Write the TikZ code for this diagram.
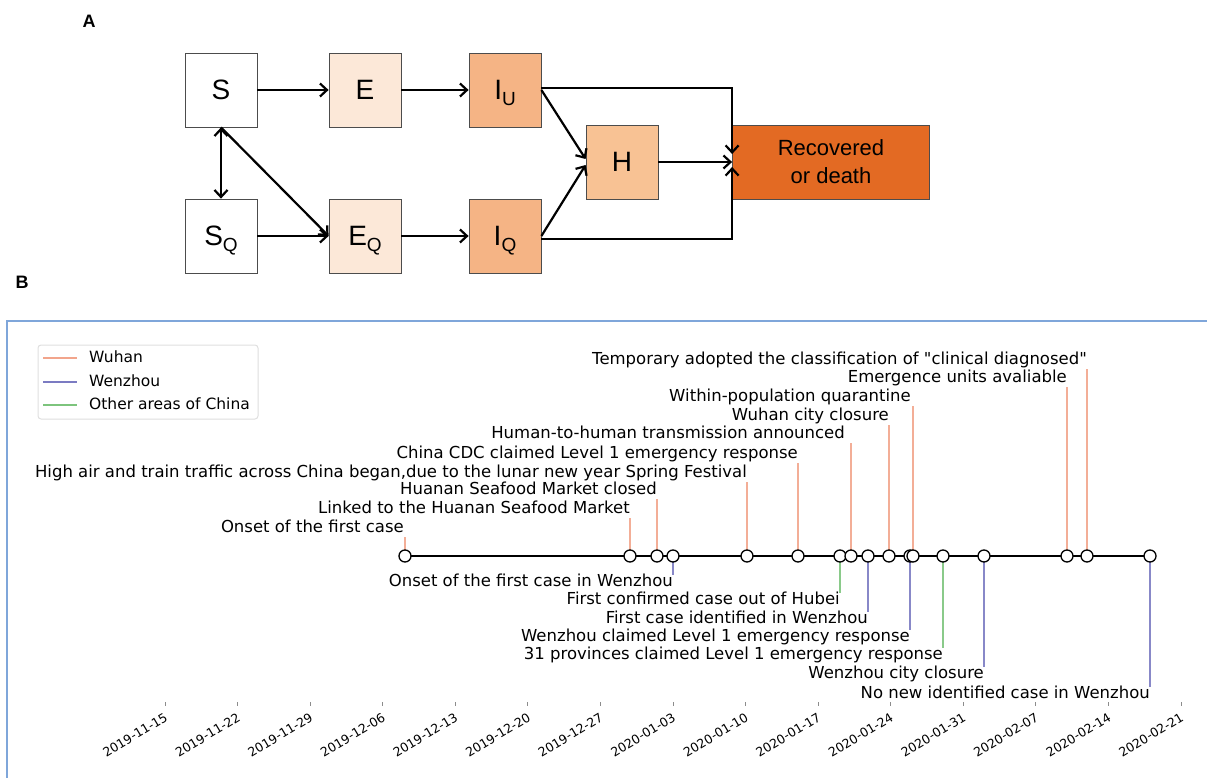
\documentclass[tikz,border=0pt]{standalone}
\usepackage{fontspec}
\setmainfont{DejaVu Sans}
\newfontfamily\dvplain{DejaVu Sans}
\newfontfamily\arialfont{Liberation Sans}
\usetikzlibrary{arrows.meta}
\definecolor{wuhancol}{HTML}{F2A58C}
\definecolor{wenzhoucol}{HTML}{7B7BC2}
\definecolor{othercol}{HTML}{7DC47D}
\definecolor{peach}{HTML}{FCE8D8}
\definecolor{apricot}{HTML}{F5B485}
\definecolor{lightapricot}{HTML}{F8C294}
\definecolor{burnt}{HTML}{E36A23}
\definecolor{frameblue}{HTML}{7FA6DA}
\newcommand\sublow[1]{\smash{\raisebox{-6pt}{\fontsize{19}{20}\selectfont #1}}}
\newcommand\dq{{\dvplain\char34}}

\tikzset{
  compbox/.style={draw=gray!60!black, line width=0.8pt, minimum width=72pt, minimum height=74pt, inner sep=0pt, font=\arialfont\fontsize{28}{30}\selectfont},
  flow/.style={line width=2.2pt, ->, >={Straight Barb[length=7pt,width=13pt]}},
  evline/.style={line width=2pt, opacity=0.9},
  evlabel/.style={inner sep=0pt, text height=11.5pt, text depth=3.5pt, font=\fontsize{16.5}{19}\selectfont},
  evdot/.style={circle, draw, line width=1.3pt, fill=white, minimum size=12pt, inner sep=0pt},
  panellabel/.style={font=\arialfont\bfseries\fontsize{18}{20}\selectfont}
}

\begin{document}
\begin{tikzpicture}[x=1pt,y=-1pt]
  \useasboundingbox (0,0) rectangle (1207,778);

  \node[panellabel] (labA) at (89,21) {A};
  \node[compbox, fill=white] (S) at (221,90) {S};
  \node[compbox, fill=peach] (E) at (365,90) {E};
  \node[compbox, fill=apricot] (IU) at (505,90) {I\sublow{U}};
  \node[compbox, fill=white] (SQ) at (221,236) {S\sublow{Q}};
  \node[compbox, fill=peach] (EQ) at (365,236) {E\sublow{Q}};
  \node[compbox, fill=apricot] (IQ) at (505,236) {I\sublow{Q}};
  \node[compbox, fill=lightapricot] (H) at (622,162) {H};
  \node[compbox, fill=burnt, minimum width=197pt, align=center, font=\arialfont\fontsize{22}{28}\selectfont] (Rec) at (831,162) {Recovered\\or death};

  \draw[flow] (S) -- (E);
  \draw[flow] (E) -- (IU);
  \draw[flow] (SQ) -- (EQ);
  \draw[flow] (EQ) -- (IQ);
  \draw[flow, <->] (S) -- (SQ);
  \draw[flow] (S.south) -- (EQ.west);
  \draw[flow] (IU.east) -- ([yshift=3pt]H.west);
  \draw[flow] (IQ.east) -- ([yshift=-3pt]H.west);
  \draw[flow] (H) -- (Rec);
  \draw[flow] ([yshift=2pt]IU.east) -| ([yshift=8pt]Rec.west);
  \draw[flow] ([yshift=-3pt]IQ.east) -| ([yshift=-5pt]Rec.west);

  \node[panellabel] (labB) at (22,282) {B};
  \draw[frameblue, line width=1.2pt] (7,778) -- (7,321) -- (1207,321);

  \draw[gray!25, fill=white, rounded corners=3pt, line width=1pt] (38,345) rectangle (258,419);
  \foreach \yy/\col/\name in {358/wuhancol/Wuhan, 382/wenzhoucol/Wenzhou, 405/othercol/Other areas of China}{
    \draw[\col, line width=2pt] (43,\yy) -- (77,\yy);
    \node[anchor=west, inner sep=0pt, text height=11pt, text depth=3pt, font=\fontsize{15.5}{18}\selectfont] (leg\yy) at (89,\yy) {\name};
  }

  \coordinate (tstart) at (405,556);
  \coordinate (tend) at (1150,556);
  \draw[line width=1.5pt] (tstart) -- (tend);

  \foreach \x/\yt/\tx/\txt in {405/537/404/Onset of the first case,
      630/518/630/Linked to the Huanan Seafood Market,
      657/499/657/Huanan Seafood Market closed,
      747/482/747/{High air and train traffic across China began,due to the lunar new year Spring Festival},
      798/463/798/China CDC claimed Level 1 emergency response,
      851/443/845/Human-to-human transmission announced,
      889/425/889/Wuhan city closure,
      913/406/911/Within-population quarantine,
      1067/387/1067/Emergence units avaliable,
      1087/369/1087/Temporary adopted the classification of \dq clinical diagnosed\dq}{
    \draw[evline, wuhancol] (\x,556) -- (\x,\yt);
    \node[evlabel, anchor=east] (up\x) at (\tx,\yt-8.5) {\txt};
  }

  \foreach \x/\yb/\col/\txt in {673/575/wenzhoucol/Onset of the first case in Wenzhou,
      840/593/othercol/First confirmed case out of Hubei,
      868/612/wenzhoucol/First case identified in Wenzhou,
      910/630/wenzhoucol/Wenzhou claimed Level 1 emergency response,
      943/648/othercol/31 provinces claimed Level 1 emergency response,
      984/667/wenzhoucol/Wenzhou city closure,
      1150/687/wenzhoucol/No new identified case in Wenzhou}{
    \draw[evline, \col] (\x,556) -- (\x,\yb);
    \node[evlabel, anchor=east] (dn\x) at (\x,\yb+7.5) {\txt};
  }

  \foreach \x in {405,630,657,673,747,798,840,851,868,889,910,913,943,984,1067,1087,1150}{
    \node[evdot] (dot\x) at (\x,556) {};
  }

  \foreach \lab [count=\i from 0] in {2019-11-15,2019-11-22,2019-11-29,2019-12-06,2019-12-13,2019-12-20,2019-12-27,2020-01-03,2020-01-10,2020-01-17,2020-01-24,2020-01-31,2020-02-07,2020-02-14,2020-02-21}{
    \draw[line width=0.8pt, black!45] (165+72.57*\i,702) -- (165+72.57*\i,706);
    \node[rotate=31, anchor=north east, inner sep=0.5pt, font=\fontsize{12.5}{14}\selectfont] (tick\i) at (164+72.57*\i,711) {\lab};
  }
\end{tikzpicture}
\end{document}
